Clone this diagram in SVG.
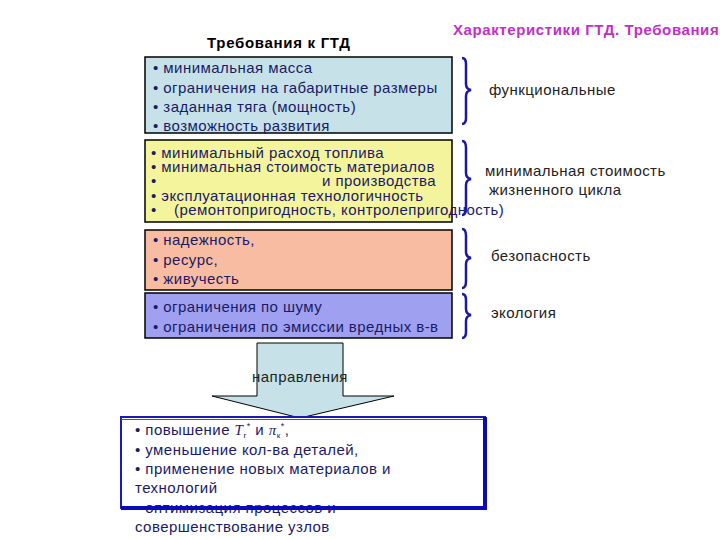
<svg xmlns="http://www.w3.org/2000/svg" width="720" height="540" viewBox="0 0 720 540">
<style>
text{font-family:"Liberation Sans",Arial,sans-serif;font-size:15px;letter-spacing:0.45px}
.bx{fill:#1a1a66}
.lb{fill:#222}
.br{fill:none;stroke:#1a1aa0;stroke-width:2.5}
.box{stroke:#000;stroke-width:1.5}
</style>
<rect width="720" height="540" fill="#fff"/>
<text x="453" y="35" font-weight="bold" fill="#c030c8" style="letter-spacing:0.6px">Характеристики ГТД. Требования</text>
<text x="207" y="48" font-weight="bold" fill="#000" style="letter-spacing:0.7px">Требования к ГТД</text>

<g id="functional">
<rect class="box" x="145" y="57" width="307" height="76" fill="#c6e2e8"/>
<text class="bx" x="153" y="73">• минимальная масса</text>
<text class="bx" x="153" y="93">• ограничения на габаритные размеры</text>
<text class="bx" x="153" y="112">• заданная тяга (мощность)</text>
<text class="bx" x="153" y="131">• возможность развития</text>
</g>
<g id="cost">
<rect class="box" x="145" y="140" width="307" height="82" fill="#f4f49c"/>
<text class="bx" x="151" y="158">• минимальный расход топлива</text>
<text class="bx" x="151" y="172">• минимальная стоимость материалов</text>
<text class="bx" x="151" y="186">•</text>
<text class="bx" x="322" y="186">и производства</text>
<text class="bx" x="151" y="201">• эксплуатационная технологичность</text>
<text class="bx" x="151" y="215">•</text>
<text class="bx" x="174" y="215">(ремонтопригодность, контролепригодность)</text>
</g>
<g id="safety">
<rect class="box" x="145" y="230" width="307" height="60" fill="#f8bca2"/>
<text class="bx" x="153" y="245">• надежность,</text>
<text class="bx" x="153" y="265">• ресурс,</text>
<text class="bx" x="153" y="284">• живучесть</text>
</g>
<g id="ecology">
<rect class="box" x="145" y="293" width="307" height="45" fill="#a0a0f0"/>
<text class="bx" x="153" y="312">• ограничения по шуму</text>
<text class="bx" x="153" y="332">• ограничения по эмиссии вредных в-в</text>
</g>

<g id="braces">
<path class="br" d="M462,58 Q466,58 466,64 L466,84 Q466,89 471,90 Q466,91 466,96 L466,118 Q466,124 462,124"/>
<path class="br" d="M462,141 Q466,141 466,148 L466,173 Q466,178 471,179 Q466,180 466,185 L466,208 Q466,215 462,215"/>
<path class="br" d="M462,229 Q466,229 466,236 L466,252 Q466,257 471,258 Q466,259 466,264 L466,281 Q466,288 462,288"/>
<path class="br" d="M462,294 Q466,294 466,300 L466,309 Q466,314 471,315 Q466,316 466,321 L466,332 Q466,338 462,338"/>
</g>
<g id="labels">
<text class="lb" x="489" y="95">функциональные</text>
<text class="lb" x="485" y="176">минимальная стоимость</text>
<text class="lb" x="489" y="195">жизненного цикла</text>
<text class="lb" x="491" y="261">безопасность</text>
<text class="lb" x="491" y="318">экология</text>
</g>

<g id="arrow">
<path d="M257,343 L343,343 L343,396 L394,396 L300,418 L212,396 L257,396 Z" fill="#c6e2e8" stroke="#000" stroke-width="1"/>
<text class="lb" x="300" y="382" text-anchor="middle">направления</text>
</g>

<g id="directions">
<rect x="121" y="417" width="364" height="91" fill="#fff" stroke="#1a1ab8" stroke-width="2"/>
<line x1="121" y1="419.5" x2="485" y2="419.5" stroke="#4a4ad0" stroke-width="1"/>
<rect x="483" y="417" width="4" height="93" fill="#0a0ab8"/>
<text class="bx" x="135" y="435">• повышение <tspan font-family="'Liberation Serif',serif" font-style="italic">T</tspan><tspan font-size="8" dy="3">г</tspan><tspan font-size="9" dy="-9">*</tspan><tspan dy="6"> и </tspan><tspan font-family="'Liberation Serif',serif" font-style="italic">π</tspan><tspan font-size="8" dy="3">к</tspan><tspan font-size="9" dy="-9">*</tspan><tspan dy="6">,</tspan></text>
<text class="bx" x="135" y="455">• уменьшение кол-ва деталей,</text>
<text class="bx" x="135" y="474">• применение новых материалов и</text>
<text class="bx" x="135" y="493">технологий</text>
<text class="bx" x="135" y="513">• оптимизация процессов и</text>
<text class="bx" x="135" y="532">совершенствование узлов</text>
<rect x="121" y="506" width="366" height="4" fill="#0a0ab8"/>
</g>
</svg>
